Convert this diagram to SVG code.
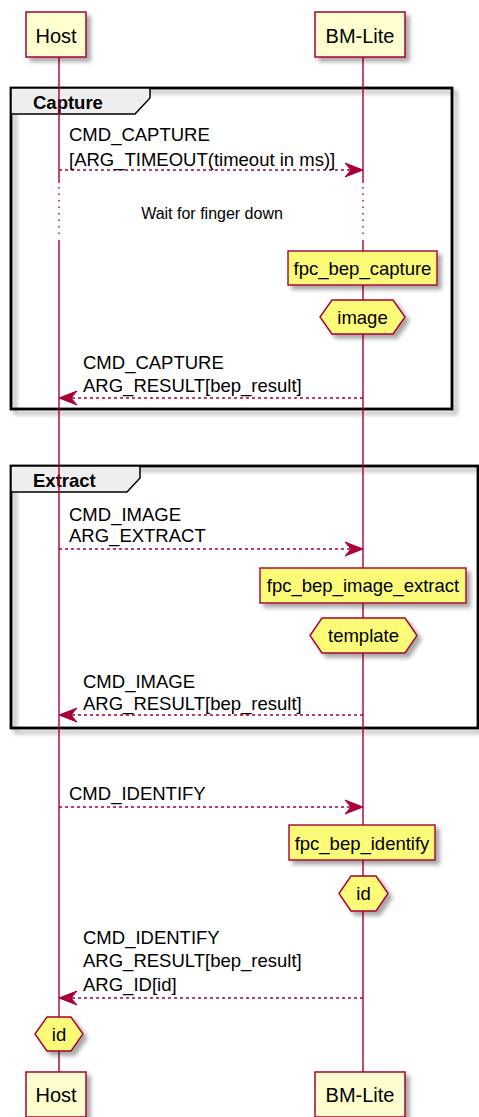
<svg xmlns="http://www.w3.org/2000/svg" width="479" height="1117" viewBox="0 0 479 1117">
<style>
text{font-family:"Liberation Sans",Arial,Helvetica,sans-serif;fill:#000}
.m{font-size:18.5px}
.c{font-size:18.5px;text-anchor:middle}
.p{font-size:20px;text-anchor:middle}
.t{font-size:18.5px;font-weight:bold}
.d{font-size:16px;text-anchor:middle}
.part{fill:#FEFECE;stroke:#A80036;stroke-width:1.5}
.note{fill:#FBFB77;stroke:#A80036;stroke-width:1.4}
.frame{fill:none;stroke:#000;stroke-width:2.8}
.tab{fill:#EEEEEE;stroke:#000;stroke-width:1.5}
.life{stroke:#A80036;stroke-width:1.4;fill:none}
.dot{stroke:#A80036;stroke-width:1.4;stroke-dasharray:1.5,5;fill:none}
.msg{stroke:#A80036;stroke-width:1.4;stroke-dasharray:3,3;fill:none}
.head{fill:#A80036;stroke:#A80036;stroke-width:1}
</style>
<defs>
<filter id="sh" x="-20%" y="-20%" width="150%" height="160%">
<feGaussianBlur in="SourceAlpha" stdDeviation="2"/>
<feOffset dx="4" dy="4"/>
<feComponentTransfer><feFuncA type="linear" slope="0.35"/></feComponentTransfer>
<feMerge><feMergeNode/><feMergeNode in="SourceGraphic"/></feMerge>
</filter>
</defs>
<rect width="479" height="1117" fill="#fff"/>

<g id="group-capture">
<rect class="frame" x="11" y="88" width="441" height="321" filter="url(#sh)"/>
<path class="tab" d="M11,88 L150,88 L150,98 L135,114 L11,114 Z"/>
<text class="t" x="33" y="109">Capture</text>
</g>
<g id="group-extract">
<rect class="frame" x="11" y="466" width="467" height="262" filter="url(#sh)"/>
<path class="tab" d="M11,466 L140,466 L140,478 L127,492 L11,492 Z"/>
<text class="t" x="33" y="487">Extract</text>
</g>

<g id="lifelines">
<path class="life" d="M59,57 V183 M59,240 V1072"/>
<path class="dot" d="M59,187 V238"/>
<path class="life" d="M363,57 V183 M363,240 V1072"/>
<path class="dot" d="M363,187 V238"/>
</g>

<g id="connectors">
<line class="msg" x1="59" y1="170" x2="356" y2="170"/>
<polygon class="head" points="363,170 345,163 351,170 345,177"/>
<line class="msg" x1="66" y1="398" x2="363" y2="398"/>
<polygon class="head" points="59,398 77,391 71,398 77,405"/>
<line class="msg" x1="59" y1="549" x2="356" y2="549"/>
<polygon class="head" points="363,549 345,542 351,549 345,556"/>
<line class="msg" x1="66" y1="715" x2="363" y2="715"/>
<polygon class="head" points="59,715 77,708 71,715 77,722"/>
<line class="msg" x1="59" y1="807" x2="356" y2="807"/>
<polygon class="head" points="363,807 345,800 351,807 345,814"/>
<line class="msg" x1="66" y1="998" x2="363" y2="998"/>
<polygon class="head" points="59,998 77,991 71,998 77,1005"/>
</g>

<g id="labels">
<text class="m" x="69" y="141">CMD_CAPTURE</text>
<text class="m" x="69" y="166">[ARG_TIMEOUT(timeout in ms)]</text>
<text class="d" x="212" y="219">Wait for finger down</text>
<text class="m" x="83" y="369">CMD_CAPTURE</text>
<text class="m" x="83" y="392">ARG_RESULT[bep_result]</text>
<text class="m" x="69" y="521">CMD_IMAGE</text>
<text class="m" x="69" y="542">ARG_EXTRACT</text>
<text class="m" x="83" y="688">CMD_IMAGE</text>
<text class="m" x="83" y="710">ARG_RESULT[bep_result]</text>
<text class="m" x="69" y="800">CMD_IDENTIFY</text>
<text class="m" x="83" y="944">CMD_IDENTIFY</text>
<text class="m" x="83" y="967">ARG_RESULT[bep_result]</text>
<text class="m" x="83" y="991">ARG_ID[id]</text>
</g>

<g id="note-capture">
<rect class="note" x="288" y="251" width="149" height="34" filter="url(#sh)"/>
<text class="c" x="362.5" y="275">fpc_bep_capture</text>
</g>
<g id="hex-image">
<polygon class="note" points="320,317 332,300 393,300 405,317 393,334 332,334" filter="url(#sh)"/>
<text class="c" x="362.5" y="324">image</text>
</g>
<g id="note-extract">
<rect class="note" x="260" y="568" width="206" height="35" filter="url(#sh)"/>
<text class="c" x="363" y="592">fpc_bep_image_extract</text>
</g>
<g id="hex-template">
<polygon class="note" points="310,635.5 322,618 405,618 417,635.5 405,653 322,653" filter="url(#sh)"/>
<text class="c" x="363.5" y="642">template</text>
</g>
<g id="note-identify">
<rect class="note" x="289" y="825" width="146" height="35" filter="url(#sh)"/>
<text class="c" x="362" y="850">fpc_bep_identify</text>
</g>
<g id="hex-id-bm">
<polygon class="note" points="339,893.5 351,876 376,876 388,893.5 376,911 351,911" filter="url(#sh)"/>
<text class="c" x="363.5" y="900">id</text>
</g>
<g id="hex-id-host">
<polygon class="note" points="35,1034 47,1017 71,1017 83,1034 71,1051 47,1051" filter="url(#sh)"/>
<text class="c" x="59" y="1041">id</text>
</g>

<g id="host-top">
<rect class="part" x="26" y="12" width="60" height="45" filter="url(#sh)"/>
<text class="p" x="56" y="43">Host</text>
</g>
<g id="bmlite-top">
<rect class="part" x="315" y="12" width="90" height="45" filter="url(#sh)"/>
<text class="p" x="360" y="43">BM-Lite</text>
</g>
<g id="host-bottom">
<rect class="part" x="26" y="1072" width="60" height="45" filter="url(#sh)"/>
<text class="p" x="56" y="1102">Host</text>
</g>
<g id="bmlite-bottom">
<rect class="part" x="315" y="1072" width="90" height="45" filter="url(#sh)"/>
<text class="p" x="360" y="1102">BM-Lite</text>
</g>
</svg>
